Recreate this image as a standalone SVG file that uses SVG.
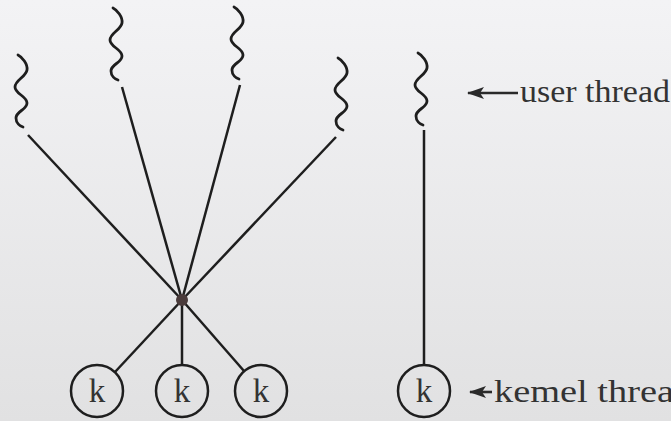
<svg xmlns="http://www.w3.org/2000/svg" width="671" height="421" viewBox="0 0 671 421">
  <defs>
    <linearGradient id="paper" x1="0" y1="0" x2="0" y2="1">
      <stop offset="0" stop-color="#f3f3f5"/>
      <stop offset="1" stop-color="#e1e1e2"/>
    </linearGradient>
    <path id="wave" d="M0,0 C4,2 10,9 9,15 C8,22 -3,25 -3,32 C-3,39 9,41 9,48 C9,55 -2,56 -2,63 C-2,68 2,71 5,72"/>
    <marker id="arrow" markerWidth="17" markerHeight="12" refX="16" refY="6" orient="auto" markerUnits="userSpaceOnUse">
      <path d="M17,6 L0,0 L4,6 L0,12 Z" fill="#2a2a2a"/>
    </marker>
  </defs>
  <style>
    .wave { fill: none; stroke: #1e1e1e; stroke-width: 2.8; stroke-linecap: round; }
    .conn { stroke: #1e1e1e; stroke-width: 2.5; fill: none; }
    .knode circle { fill: none; stroke: #1e1e1e; stroke-width: 2.5; }
    .lbl { fill: #333; }
    .k { font-size: 33px; text-anchor: middle; }
    .note { font-size: 31px; }
    .pointer { stroke: #2a2a2a; stroke-width: 2.6; }
  </style>
  <rect width="671" height="421" fill="url(#paper)"/>

  <g id="user-threads">
    <g id="u1"><use href="#wave" class="wave" transform="translate(18,55)"/></g>
    <g id="u2"><use href="#wave" class="wave" transform="translate(113,8)"/></g>
    <g id="u3"><use href="#wave" class="wave" transform="translate(234,7)"/></g>
    <g id="u4"><use href="#wave" class="wave" transform="translate(338,58)"/></g>
    <g id="u5"><use href="#wave" class="wave" transform="translate(418,53)"/></g>
  </g>

  <g id="connectors">
    <line class="conn" x1="28" y1="135" x2="182" y2="300"/>
    <line class="conn" x1="122" y1="87" x2="182" y2="300"/>
    <line class="conn" x1="240" y1="85" x2="182" y2="300"/>
    <line class="conn" x1="336" y1="137" x2="182" y2="300"/>
    <line class="conn" x1="182" y1="300" x2="115" y2="372"/>
    <line class="conn" x1="182" y1="300" x2="182" y2="365"/>
    <line class="conn" x1="182" y1="300" x2="244" y2="371"/>
    <line class="conn" x1="424" y1="130" x2="424" y2="365"/>
  </g>

  <g id="hub"><circle cx="182" cy="300" r="6" fill="#4a3b3b"/></g>

  <g id="k1" class="knode"><circle cx="97" cy="391" r="26"/><text class="lbl k" font-family="Liberation Serif, serif" x="97" y="402">k</text></g>
  <g id="k2" class="knode"><circle cx="182" cy="391" r="26"/><text class="lbl k" font-family="Liberation Serif, serif" x="182" y="402">k</text></g>
  <g id="k3" class="knode"><circle cx="261" cy="391" r="26"/><text class="lbl k" font-family="Liberation Serif, serif" x="261" y="402">k</text></g>
  <g id="k4" class="knode"><circle cx="424" cy="391" r="26"/><text class="lbl k" font-family="Liberation Serif, serif" x="424" y="402">k</text></g>

  <g id="label-user">
    <line class="pointer" x1="518" y1="93" x2="468" y2="93" marker-end="url(#arrow)"/>
    <text class="lbl note" font-family="Liberation Serif, serif" x="520" y="102" textLength="150" lengthAdjust="spacingAndGlyphs">user thread</text>
  </g>
  <g id="label-kernel">
    <line class="pointer" x1="492" y1="392" x2="470" y2="392" marker-end="url(#arrow)"/>
    <text class="lbl note" font-family="Liberation Serif, serif" x="494" y="402" textLength="180" lengthAdjust="spacingAndGlyphs">kemel threa</text>
  </g>
</svg>
